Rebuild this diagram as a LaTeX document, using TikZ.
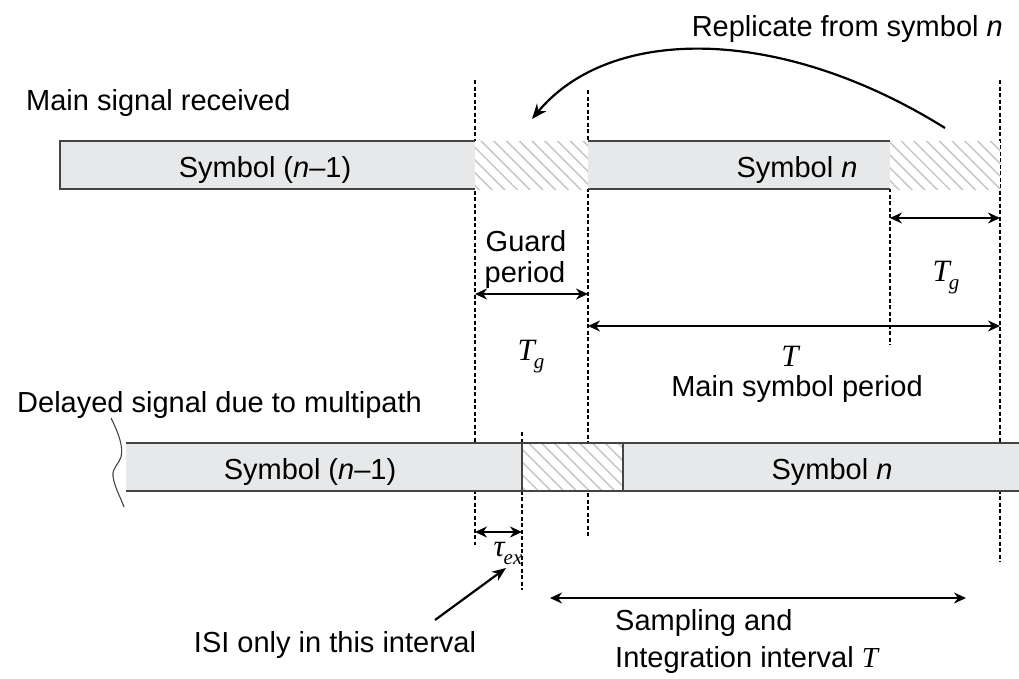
\documentclass[tikz,border=0pt]{standalone}
\usepackage{fontspec}
\setmainfont{Liberation Sans}
\newfontfamily\mathserif{Liberation Serif}
\usetikzlibrary{patterns.meta,arrows.meta}
\definecolor{barfill}{HTML}{E6E8EA}
\definecolor{barline}{HTML}{444444}
\definecolor{hatchcol}{HTML}{C4C4C4}
\newcommand{\vT}{{\mathserif\itshape T}}
\newcommand{\vTg}{{\mathserif\itshape T\kern-1pt\raisebox{-8pt}{\fontsize{21}{21}\selectfont g}}}
\newcommand{\vtex}{{\mathserif\itshape\char"03C4\kern-1pt\raisebox{-8pt}{\fontsize{21}{21}\selectfont ex}}}
\tikzset{
  lbl/.style={font=\fontsize{29}{31}\selectfont, inner sep=0pt},
  mlbl/.style={font=\fontsize{31}{32}\selectfont, inner sep=0pt},
  guide/.style={draw=black, line width=1.1pt, dash pattern=on 4pt off 2.5pt},
  edge/.style={draw=barline, line width=2pt},
  dim/.style={line width=2.4pt, {Stealth[length=12pt,width=11pt]}-{Stealth[length=12pt,width=11pt]}},
  hatch/.style={pattern={Lines[angle=-45,distance=9pt,line width=1.4pt]}, pattern color=hatchcol},
}
\begin{document}
\begin{tikzpicture}[x=1pt,y=-1pt]
\useasboundingbox (0,0) rectangle (1019,678);
\fill[white] (0,0) rectangle (1019,678);

% ---------- dashed guides (drawn first, bars cover them) ----------
\draw[guide] (475,80) -- (475,545);
\draw[guide] (588,90) -- (588,537);
\draw[guide] (890,188) -- (890,345);
\draw[guide] (1000,80) -- (1000,562);
\draw[guide] (522,432) -- (522,590);

% ---------- main signal ----------
\fill[barfill] (60,141) rectangle (475,189);
\draw[edge] (475,141) -- (60,141) -- (60,189) -- (475,189);
\fill[white] (475,141) rectangle (588,189);
\fill[hatch] (475,141) rectangle (588,189);
\fill[barfill] (588,141) rectangle (890,189);
\draw[edge] (588,141) -- (890,141);
\draw[edge] (588,189) -- (890,189);
\fill[white] (890,141) rectangle (1000,189);
\fill[hatch] (890,141) rectangle (1000,189);

% ---------- delayed signal ----------
\fill[barfill] (126,443) rectangle (522,491);
\fill[white] (522,443) rectangle (623,491);
\fill[hatch] (522,443) rectangle (623,491);
\fill[barfill] (623,443) rectangle (1019,491);
\draw[edge] (126,443) -- (1019,443);
\draw[edge] (126,491) -- (1019,491);
\draw[barline, line width=1.5pt] (522,443) -- (522,491);
\draw[barline, line width=1.5pt] (623,443) -- (623,491);
% break mark
\draw[barline, line width=1.1pt] (111,418) .. controls (117,430) and (124,446) .. (121,457)
  .. controls (119,464) and (112,468) .. (113,476) .. controls (114,486) and (120,496) .. (124,507);

% ---------- labels ----------
\node[lbl, anchor=base east] (rep) at (1003,36) {Replicate from symbol \textit{n}};
\node[lbl, anchor=base west] (main) at (26,110) {Main signal received};
\node[lbl, anchor=base] (s1) at (265,177) {Symbol (\textit{n}–1)};
\node[lbl, anchor=base] (s2) at (797,177) {Symbol \textit{n}};
\node[lbl, anchor=base] (guard) at (526,251) {Guard};
\node[lbl, anchor=base] (period) at (525,282) {period};
\node[mlbl, anchor=base] (tg1) at (531,360) {\vTg};
\node[mlbl, anchor=base] (tg2) at (946,281) {\vTg};
\node[mlbl, anchor=base, text depth=0pt] (tt) at (790,366) {\vT};
\node[lbl, anchor=base, text height=21pt] (msp) at (797,396) {Main symbol period};
\node[lbl, anchor=base west] (del) at (17,412) {Delayed signal due to multipath};
\node[lbl, anchor=base] (d1) at (310,479) {Symbol (\textit{n}–1)};
\node[lbl, anchor=base] (d2) at (832,479) {Symbol \textit{n}};
\node[mlbl, anchor=base] (tex) at (508,556) {\vtex};
\node[lbl, anchor=base] (isi) at (335,652) {ISI only in this interval};
\node[lbl, anchor=base west] (samp) at (615,630) {Sampling and};
\node[lbl, anchor=base west] (integ) at (615,667) {Integration interval \vT};

% ---------- dimension arrows ----------
\draw[dim] (890,218) -- (1000,218);
\draw[dim] (475,294) -- (588,294);
\draw[dim] (588,326) -- (1000,326);
\draw[dim] (475,532) -- (522,532);
\draw[dim] (550,598) -- (966,598);

% replication arrow
\coordinate (repS) at (945,128);
\coordinate (repE) at (532,119);
\draw[line width=2.2pt, -{Stealth[length=15pt,width=12pt]}] (repS) .. controls (780,25) and (610,25) .. (repE);

% ISI pointer
\coordinate (isiS) at (435,620);
\coordinate (isiE) at (506,568);
\draw[line width=2.2pt, -{Stealth[length=14pt,width=11pt]}] (isiS) -- (isiE);
\end{tikzpicture}
\end{document}
